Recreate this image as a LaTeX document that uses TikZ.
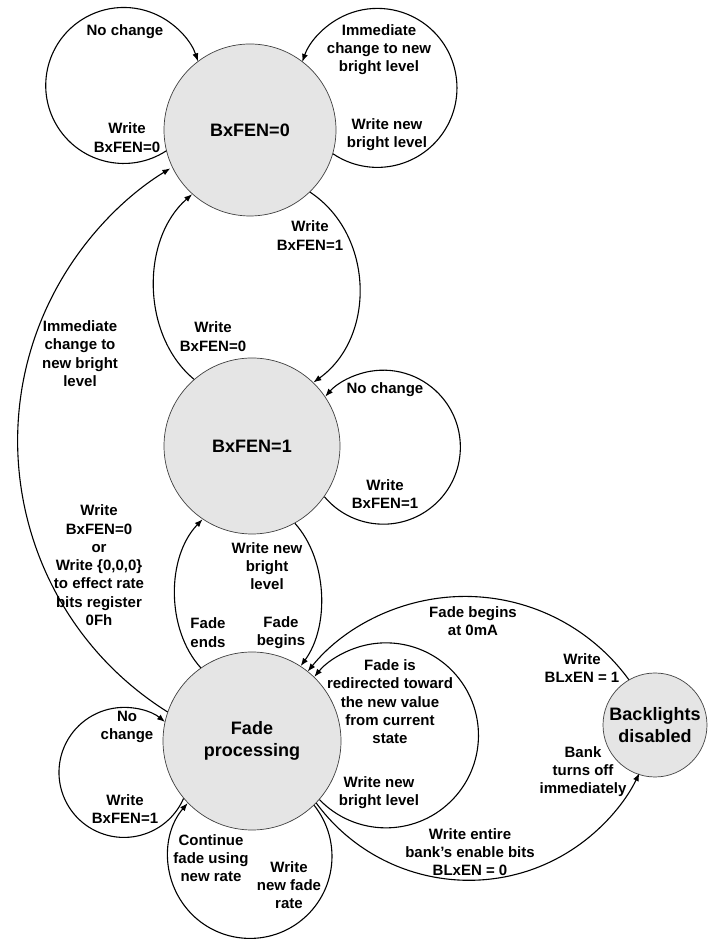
\documentclass[tikz,border=0pt]{standalone}
\usepackage{fontspec}
\setmainfont{Liberation Sans}
\usetikzlibrary{arrows.meta}
\begin{document}
\begin{tikzpicture}[x=1bp,y=1bp,
  state/.style={circle, draw=black!75, line width=0.7bp, fill=black!10, inner sep=0pt,
    font=\fontsize{18bp}{22bp}\selectfont\bfseries, align=center},
  lbl/.style={font=\fontsize{15bp}{18.3bp}\selectfont\bfseries, align=center, inner sep=0pt},
  edge/.style={line width=1.1bp, -{Latex[length=8bp,width=6bp]}}
]
\useasboundingbox (0,0) rectangle (714,939);
% states
\node[state, minimum size=172bp] (s0) at (250,809) {BxFEN=0};
\node[state, minimum size=176bp] (s1) at (252,493) {BxFEN=1};
\node[state, minimum size=178bp] (fp) at (252,198) {Fade\\processing};
\node[state, minimum size=104bp] (bd) at (655,214) {Backlights\\disabled};
% self loops
\draw[edge] (s0.194) arc[start angle=-57, end angle=-342, radius=78];
\draw[edge] (s0.-16) arc[start angle=236, end angle=521, radius=79.5];
\draw[edge] (s1.-35) arc[start angle=220, end angle=499, radius=77];
\draw[edge] (fp.220) arc[start angle=-23.6, end angle=-309.2, radius=65];
\draw[edge] (fp.314) arc[start angle=38.6, end angle=-220.6, radius=82];
\draw[edge] (fp.-41) arc[start angle=224, end angle=500.8, radius=92.5];
% transitions
\draw[edge] (s0.-46) .. controls (374.2,704.5) and (376.2,601.6) .. (s1.46);
\draw[edge] (s1.131) .. controls (141.3,603.4) and (140.6,699.6) .. (s0.-132);
\draw[edge] (s1.-61) .. controls (327.3,379.9) and (330,313.1) .. (fp.57);
\draw[edge] (fp.125) .. controls (165.7,310) and (166.5,382.4) .. (s1.-124);
\draw[edge] (fp.161) arc[start angle=237.9, end angle=121.5, radius=319.8];
\draw[edge] (bd.120) arc[start angle=36.1, end angle=141, radius=202.6];
\draw[edge] (fp.-44) arc[start angle=-143.7, end angle=-25.7, radius=189.3];
% labels
\node[lbl] (l1) at (125,907) {No change};
\node[lbl] (l2) at (127,801.5) {Write\\BxFEN=0};
\node[lbl] (l3) at (379,889.5) {Immediate\\change to new\\bright level};
\node[lbl] (l4) at (387,804) {Write new\\bright level};
\node[lbl] (l6) at (310,703.5) {Write\\BxFEN=1};
\node[lbl] (l7) at (213,602.5) {Write\\BxFEN=0};
\node[lbl] (l8) at (385,549) {No change};
\node[lbl] (l9) at (385,445) {Write\\BxFEN=1};
\node[lbl] (l10) at (80,585.5) {Immediate\\change to\\new bright\\level};
\node[lbl] (l11) at (99,373.7) {Write\\BxFEN=0\\or\\Write \{0,0,0\}\\to effect rate\\bits register\\0Fh};
\node[lbl] (l12) at (267,372.8) {Write new\\bright\\level};
\node[lbl] (l13) at (208,306.5) {Fade\\ends};
\node[lbl] (l14) at (281,306.5) {Fade\\begins};
\node[lbl] (l15) at (390,237.3) {Fade is\\redirected toward\\the new value\\from current\\state};
\node[lbl] (l16) at (379,146) {Write new\\bright level};
\node[lbl] (l17) at (127,212) {No\\change};
\node[lbl] (l18) at (125,130) {Write\\BxFEN=1};
\node[lbl] (l19) at (211,81) {Continue\\fade using\\new rate};
\node[lbl] (l20) at (289,54) {Write\\new fade\\rate};
\node[lbl] (l21) at (473,318) {Fade begins\\at 0mA};
\node[lbl] (l22) at (582,271) {Write\\BLxEN = 1};
\node[lbl] (l23) at (583,167.5) {Bank\\turns off\\immediately};
\node[lbl] (l24) at (470,87) {Write entire\\bank’s enable bits\\BLxEN = 0};
\end{tikzpicture}
\end{document}
